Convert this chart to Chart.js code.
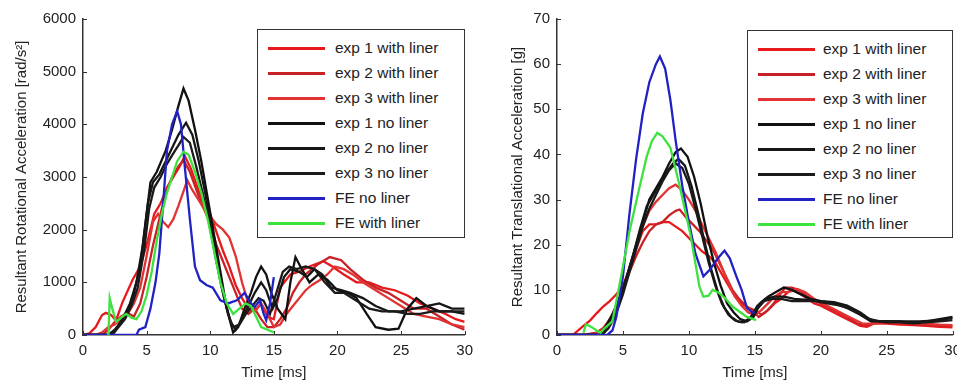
<!DOCTYPE html>
<html>
<head>
<meta charset="utf-8">
<script src="https://cdn.jsdelivr.net/npm/chart.js@4.4.1/dist/chart.umd.min.js"></script>
<style>
  html, body { margin: 0; padding: 0; background: #fff; overflow: hidden; width: 957px; height: 385px; }
  .box { position: absolute; top: 0; height: 385px; }
  .legend { position: absolute; border: 1.5px solid #333; background: #fff; box-sizing: border-box;
            font-family: "Liberation Sans", Arial, sans-serif; font-size: 15.5px; color: #222; }
  .legend .row { position: absolute; left: 0; right: 0; height: 20px; }
  .legend .ln { position: absolute; height: 2.5px; width: 57px; top: 9px; }
  .legend .tx { position: absolute; top: 1px; line-height: 18px; white-space: nowrap; }
</style>
</head>
<body>
<div class="box" style="left:478px;width:490px"><canvas id="trans" width="490" height="385"></canvas></div>
<div class="box" style="left:0;width:480px"><canvas id="rot" width="480" height="385"></canvas></div>
<div class="legend" id="legRot" style="left:257px;top:29px;width:208px;height:209px"></div>
<div class="legend" id="legTrans" style="left:747px;top:30px;width:206px;height:208px"></div>

<script>
// series names and colours
let names = ['exp 1 with liner', 'exp 2 with liner', 'exp 3 with liner',
             'exp 1 no liner', 'exp 2 no liner', 'exp 3 no liner',
             'FE no liner', 'FE with liner'];
let colors = ['#e8191c', '#c92226', '#e23232', '#111111', '#161616', '#1a1a1a', '#2222c4', '#3ee23e'];

let xTicks = [0, 5, 10, 15, 20, 25, 30];

// ---- rotational acceleration [rad/s^2], pairs of [time ms, value]
let rotExp1Liner = [[0,0],[0.5,30],[1,150],[1.5,380],[1.8,420],[2.2,380],[2.6,280],[3.1,620],[3.9,1050],[4.5,1300],[5.1,1800],[5.6,2300],[6.1,2500],[6.6,2800],[7.1,3000],[7.6,3200],[8,3400],[8.5,3150],[9,2800],[9.5,2500],[10,2300],[10.5,1950],[11,1600],[11.5,1300],[12,950],[12.5,700],[13,500],[13.5,450],[14,600],[14.5,350],[15,300],[15.5,900],[16.3,1150],[17,1200],[17.8,1300],[18.9,1400],[19.6,1300],[20.5,1150],[21.5,1000],[22.5,1000],[23.5,900],[24.5,850],[25.5,750],[26.5,600],[27.5,500],[28.5,400],[29.3,300],[30,250]];
let rotExp2Liner = [[0,0],[1.5,0],[2,100],[2.5,250],[3,350],[3.5,420],[4,350],[4.5,600],[5,1100],[5.5,1700],[6,2200],[6.5,2700],[7,3000],[7.5,3200],[7.9,3320],[8.4,3100],[9,2700],[9.5,2400],[10,2100],[10.5,1700],[11,1400],[11.5,1100],[12,800],[12.5,500],[13,400],[13.5,500],[14,300],[14.5,150],[15,150],[15.5,300],[16,500],[16.5,800],[17,1000],[17.5,1150],[18.5,1350],[19.4,1480],[20.3,1420],[21,1250],[22,1050],[23,900],[24,800],[25,650],[26,500],[27,500],[28,350],[29,200],[30,100]];
let rotExp3Liner = [[0,0],[1,0],[1.5,50],[2,150],[2.5,200],[3,300],[3.5,400],[4,600],[4.5,900],[5,1500],[5.5,2150],[5.9,2300],[6.3,2150],[6.7,2050],[7.1,2200],[7.5,2450],[8,2800],[8.2,2940],[8.6,2750],[9,2600],[9.5,2400],[10,2250],[10.5,2100],[11,2000],[11.5,1850],[12,1500],[12.5,1000],[13,600],[13.5,450],[14,600],[14.5,400],[15,150],[15.5,200],[16,400],[16.5,550],[17,700],[17.5,850],[18,950],[18.6,1040],[19.2,1150],[19.8,1300],[20.5,1250],[21.2,1150],[22,1000],[23,850],[24,700],[25,550],[26,400],[27,350],[28,300],[29,200],[30,150]];
let rotExp1NoLiner = [[0,0],[2,0],[2.5,100],[3,250],[3.5,450],[4,800],[4.5,1300],[5,2300],[5.3,2900],[5.8,3100],[6.5,3500],[7,3900],[7.5,4350],[7.9,4680],[8.3,4450],[8.8,3900],[9.3,3300],[9.8,2600],[10.3,1900],[10.8,1200],[11.3,500],[11.8,50],[12.2,150],[12.7,500],[13.2,800],[13.6,1100],[14,1300],[14.4,1150],[14.8,800],[15.3,500],[15.9,300],[16.3,1000],[16.7,1480],[17.2,1250],[17.8,1000],[18.5,1150],[19.2,1050],[20,850],[20.8,800],[21.5,700],[22.3,400],[23,150],[24,100],[24.8,120],[25.5,500],[26.2,700],[27,550],[28,450],[29,450],[30,400]];
let rotExp2NoLiner = [[0,0],[2.2,0],[2.7,150],[3.2,350],[3.7,600],[4.2,1000],[4.7,1700],[5.1,2500],[5.5,2900],[6,3050],[6.5,3300],[7,3550],[7.5,3800],[8.1,4030],[8.6,3800],[9.1,3300],[9.6,2700],[10.1,2000],[10.6,1300],[11.1,700],[11.6,250],[12,100],[12.5,300],[13,550],[13.5,800],[14,1000],[14.4,850],[14.9,500],[15.3,700],[15.8,1100],[16.3,1250],[17,1200],[17.6,1100],[18.2,1250],[18.8,1150],[19.5,900],[20.3,850],[21,800],[22,700],[23,550],[24,450],[25,450],[26,500],[27,550],[28,600],[29,500],[30,500]];
let rotExp3NoLiner = [[0,0],[2.3,0],[2.8,150],[3.3,300],[3.8,550],[4.3,900],[4.8,1600],[5.2,2400],[5.6,2800],[6.1,3000],[6.6,3250],[7.1,3450],[7.5,3600],[7.9,3760],[8.4,3650],[8.9,3200],[9.4,2700],[9.9,2150],[10.4,1500],[10.9,900],[11.4,400],[11.8,150],[12.3,200],[12.8,400],[13.3,550],[13.8,700],[14.2,650],[14.7,400],[15.2,800],[15.7,1200],[16.2,1300],[16.8,1250],[17.5,1300],[18.2,1250],[19,1000],[19.8,800],[20.5,800],[21.5,650],[22.5,500],[23.5,450],[24.5,450],[25.5,400],[26.5,400],[27.5,450],[28.5,450],[30,450]];
let rotFeNoLiner = [[0,0],[4.2,0],[4.4,100],[4.9,150],[5.3,500],[5.7,1000],[6,1550],[6.3,2500],[6.6,3500],[7,4000],[7.4,4250],[7.7,4000],[8,3200],[8.4,2200],[8.8,1300],[9.2,1040],[9.7,950],[10.2,900],[10.8,660],[11.4,600],[12.1,660],[12.7,800],[13.2,600],[13.5,530],[13.9,660],[14.2,400],[14.4,280],[14.7,600],[15,1100]];
let rotFeLiner = [[2,0],[2.1,700],[2.3,500],[2.6,250],[3,330],[3.4,400],[3.8,330],[4.2,300],[4.6,450],[5,750],[5.4,1200],[5.8,1800],[6.2,2300],[6.6,2700],[7,3000],[7.4,3300],[7.9,3480],[8.3,3420],[8.8,3100],[9.3,2700],[9.8,2200],[10.3,1600],[10.8,1000],[11.3,600],[11.8,400],[12.3,500],[12.8,600],[13.2,550],[13.6,350],[14,150],[14.5,100],[15,50]];

// ---- translational acceleration [g]
let trExp1Liner = [[0,0],[1.2,0],[2,2],[2.5,3.2],[3,4.8],[3.5,6.3],[4,7.5],[4.5,9],[5,11],[5.5,14.5],[6,19],[6.5,23],[7,24.5],[7.5,24.5],[8,25],[8.5,25],[9,24],[9.5,23],[10,21.5],[10.5,20],[11,18.5],[11.5,17.5],[12,16],[12.5,13.5],[13,11],[13.5,8.5],[14,7],[14.5,6],[15,5.5],[15.5,4.5],[16,5.5],[16.5,7],[17,8],[17.5,9.5],[18,10],[18.5,9],[19,8],[19.5,7],[20,6.5],[21,5],[22,3.5],[23,2],[23.5,1.8],[24,2.5],[25,2.5],[26,2.3],[27,2.2],[28,2],[29,1.8],[30,1.7]];
let trExp2Liner = [[0,0],[2,0],[3,0.5],[3.5,1.5],[4,3],[4.5,6],[5,10],[5.5,14],[6,17.5],[6.5,20.5],[7,23],[7.5,24.5],[8,25],[8.5,26.5],[9,27.5],[9.3,27.8],[9.8,26],[10.3,24.5],[10.8,23],[11.3,21],[11.8,19],[12.3,16],[12.8,13],[13.3,10],[13.8,8],[14.3,6.5],[14.8,5.5],[15.3,4],[15.8,5],[16.3,6.5],[16.8,8.5],[17.3,10.5],[17.8,10.5],[18.3,10],[19,8.5],[20,7],[21,5.5],[22,4],[22.8,2.5],[23.5,2.2],[24.5,3],[25.5,2.8],[26.5,2.5],[27.5,2.3],[28.5,2.2],[30,2]];
let trExp3Liner = [[0,0],[2.5,0],[3,0.5],[3.5,1.5],[4,3.5],[4.5,6.5],[5,10.5],[5.5,15],[6,19.5],[6.5,24],[7,27.5],[7.5,29.5],[8,31],[8.5,32.5],[9,33.3],[9.5,32],[10,30],[10.5,27.5],[11,24.5],[11.5,21.5],[12,18.5],[12.5,15],[13,11.5],[13.5,8.5],[14,6.5],[14.5,5],[15,4.5],[15.5,5.5],[16,7],[16.5,8.5],[17,9.5],[17.5,9.5],[18.2,10.2],[18.8,9.5],[19.5,8],[20.5,6.5],[21.5,5],[22.5,3.5],[23.2,2.5],[24,2.5],[25,3],[26,2.8],[27,2.8],[28,2.5],[29,2.3],[30,2.2]];
let trExp1NoLiner = [[0,0],[3.3,0],[3.8,2],[4.3,5],[5,10],[5.5,15],[6,20],[6.5,25],[7,30],[7.5,32.5],[8,35],[8.5,38],[9,40.5],[9.4,41.3],[9.9,39.5],[10.4,35],[10.9,29],[11.4,22],[11.9,16],[12.4,11],[12.9,7],[13.4,5],[13.9,3.5],[14.4,3],[14.9,4],[15.4,7],[16,8.5],[16.6,9.5],[17.2,10.5],[17.8,10],[18.5,9],[19.2,8],[20,7.5],[21,7],[22,6],[23,4.5],[23.8,3],[25,3],[26,3],[27,2.7],[28,3],[29,3.5],[30,4]];
let trExp2NoLiner = [[0,0],[3.2,0],[3.7,2],[4.2,4.5],[4.8,8.5],[5.3,13],[5.8,18],[6.3,23.5],[6.8,28.5],[7.3,31],[7.8,33.5],[8.3,36],[8.8,38],[9.2,39],[9.7,37.5],[10.2,33],[10.7,27],[11.2,20.5],[11.7,14.5],[12.2,9.5],[12.7,6],[13.2,4],[13.7,3],[14.2,2.8],[14.7,4],[15.2,6.5],[15.8,8],[16.5,8.5],[17.2,8.5],[18,8],[19,7.8],[20,7.5],[21,7.3],[22,6.5],[23,5],[23.7,3.5],[24.5,3],[25.5,3],[26.5,3],[27.5,3],[28.5,3.2],[29.5,3.5],[30,3.8]];
let trExp3NoLiner = [[0,0],[3.4,0],[3.9,1.5],[4.4,4],[5,9],[5.5,14],[6,19],[6.5,24],[7,28],[7.5,31],[8,34],[8.5,36.5],[9,38],[9.5,37],[10,33.5],[10.5,28],[11,22],[11.5,16],[12,11],[12.5,7],[13,4.5],[13.5,3.2],[14,2.8],[14.6,3.5],[15.1,5.5],[15.7,7.5],[16.3,8],[17,8],[17.8,7.5],[18.6,7.5],[19.5,7.5],[20.5,7],[21.5,6.5],[22.5,5.5],[23.3,4],[24,3.2],[25,2.8],[26,2.8],[27,2.6],[28,2.8],[29,3],[30,3.3]];
let trFeNoLiner = [[0,0],[3.8,0],[4.2,1],[4.5,4],[5,13],[5.5,27],[6,39],[6.5,49],[7,56],[7.5,60],[7.8,61.7],[8.2,59],[8.6,52],[9,43],[9.5,33],[10,25],[10.5,18],[11.1,13],[11.6,14.5],[12.2,17],[12.7,18.7],[13.1,17],[13.6,13],[14,10],[14.4,6],[14.8,5],[15,5]];
let trFeLiner = [[2,0.5],[2.2,2.4],[2.6,1.8],[3,1],[3.3,0.5],[3.6,1.5],[4.2,3],[4.8,12],[5.5,23],[6.2,32],[6.8,39.5],[7.2,43],[7.6,44.8],[8,44],[8.6,41.5],[9.3,33],[10.1,22.5],[10.8,10.7],[11.1,8.5],[11.5,8.7],[11.8,10],[12.3,9.3],[12.8,8],[13.3,6.3],[14.4,4],[15.1,3.3]];

let rotSeries = [rotExp1Liner, rotExp2Liner, rotExp3Liner, rotExp1NoLiner, rotExp2NoLiner, rotExp3NoLiner, rotFeNoLiner, rotFeLiner];
let trSeries = [trExp1Liner, trExp2Liner, trExp3Liner, trExp1NoLiner, trExp2NoLiner, trExp3NoLiner, trFeNoLiner, trFeLiner];

let font = { family: '"Liberation Sans", Arial, sans-serif', size: 15 };

// small tick marks pointing into the plot, like matlab
let innerTicks = {
  id: 'innerTicks',
  afterDraw(chart) {
    let ctx = chart.ctx, a = chart.chartArea;
    let x = chart.scales.x, y = chart.scales.y;
    ctx.save();
    ctx.strokeStyle = '#333';
    ctx.lineWidth = 1;
    ctx.beginPath();
    x.ticks.forEach(t => {
      let px = Math.round(x.getPixelForValue(t.value)) + 0.5;
      ctx.moveTo(px, a.bottom);
      ctx.lineTo(px, a.bottom - 4);
    });
    y.ticks.forEach(t => {
      let py = Math.round(y.getPixelForValue(t.value)) + 0.5;
      ctx.moveTo(a.left, py);
      ctx.lineTo(a.left + 4, py);
    });
    ctx.stroke();
    ctx.restore();
  }
};

function makeChart(id, series, yMax, yStep, yTitle, yWidth, titlePad) {
  let datasets = series.map((s, i) => ({
    label: names[i],
    data: s.map(p => ({ x: p[0], y: p[1] })),
    borderColor: colors[i],
    borderWidth: 2.3,
    pointRadius: 0,
    tension: 0,
    order: series.length - i
  }));

  return new Chart(document.getElementById(id), {
    type: 'line',
    data: { datasets: datasets },
    options: {
      responsive: false,
      animation: false,
      layout: { padding: { top: 19, right: 0, bottom: 0, left: 0 } },
      plugins: { legend: { display: false }, tooltip: { enabled: false } },
      scales: {
        x: {
          type: 'linear', min: 0, max: 30,
          afterBuildTicks: s => { s.ticks = xTicks.map(v => ({ value: v })); },
          afterFit: s => { s.height = 50; },
          grid: { display: true, drawOnChartArea: false, drawTicks: false },
          border: { display: true, color: '#333', width: 1.5 },
          ticks: { font: font, color: '#222', padding: 7, maxRotation: 0, callback: v => String(v) },
          title: { display: true, text: 'Time [ms]', font: font, color: '#222', padding: { top: 0, bottom: 3 } }
        },
        y: {
          min: 0, max: yMax,
          ticks: { stepSize: yStep, font: font, color: '#222', padding: 7, callback: v => String(v) },
          afterFit: s => { s.width = yWidth; },
          grid: { display: true, drawOnChartArea: false, drawTicks: false },
          border: { display: true, color: '#333', width: 1.5 },
          title: { display: true, text: yTitle, font: font, color: '#222', padding: { top: titlePad, bottom: 0 } }
        }
      }
    },
    plugins: [innerTicks]
  });
}

function makeLegend(id, lineLeft, textLeft) {
  let box = document.getElementById(id);
  names.forEach((n, i) => {
    let row = document.createElement('div');
    row.className = 'row';
    row.style.top = (8 + i * 25) + 'px';
    row.innerHTML = `<span class="ln" style="left:${lineLeft}px;background:${colors[i]}"></span>` +
                    `<span class="tx" style="left:${textLeft}px">${n}</span>`;
    box.appendChild(row);
  });
}

makeChart('rot', rotSeries, 6000, 1000, 'Resultant Rotational Acceleration [rad/s²]', 83, 13);
makeChart('trans', trSeries, 70, 10, 'Resultant Translational Acceleration [g]', 79, 31);
makeLegend('legRot', 10, 77);
makeLegend('legTrans', 10, 75);
</script>
</body>
</html>
